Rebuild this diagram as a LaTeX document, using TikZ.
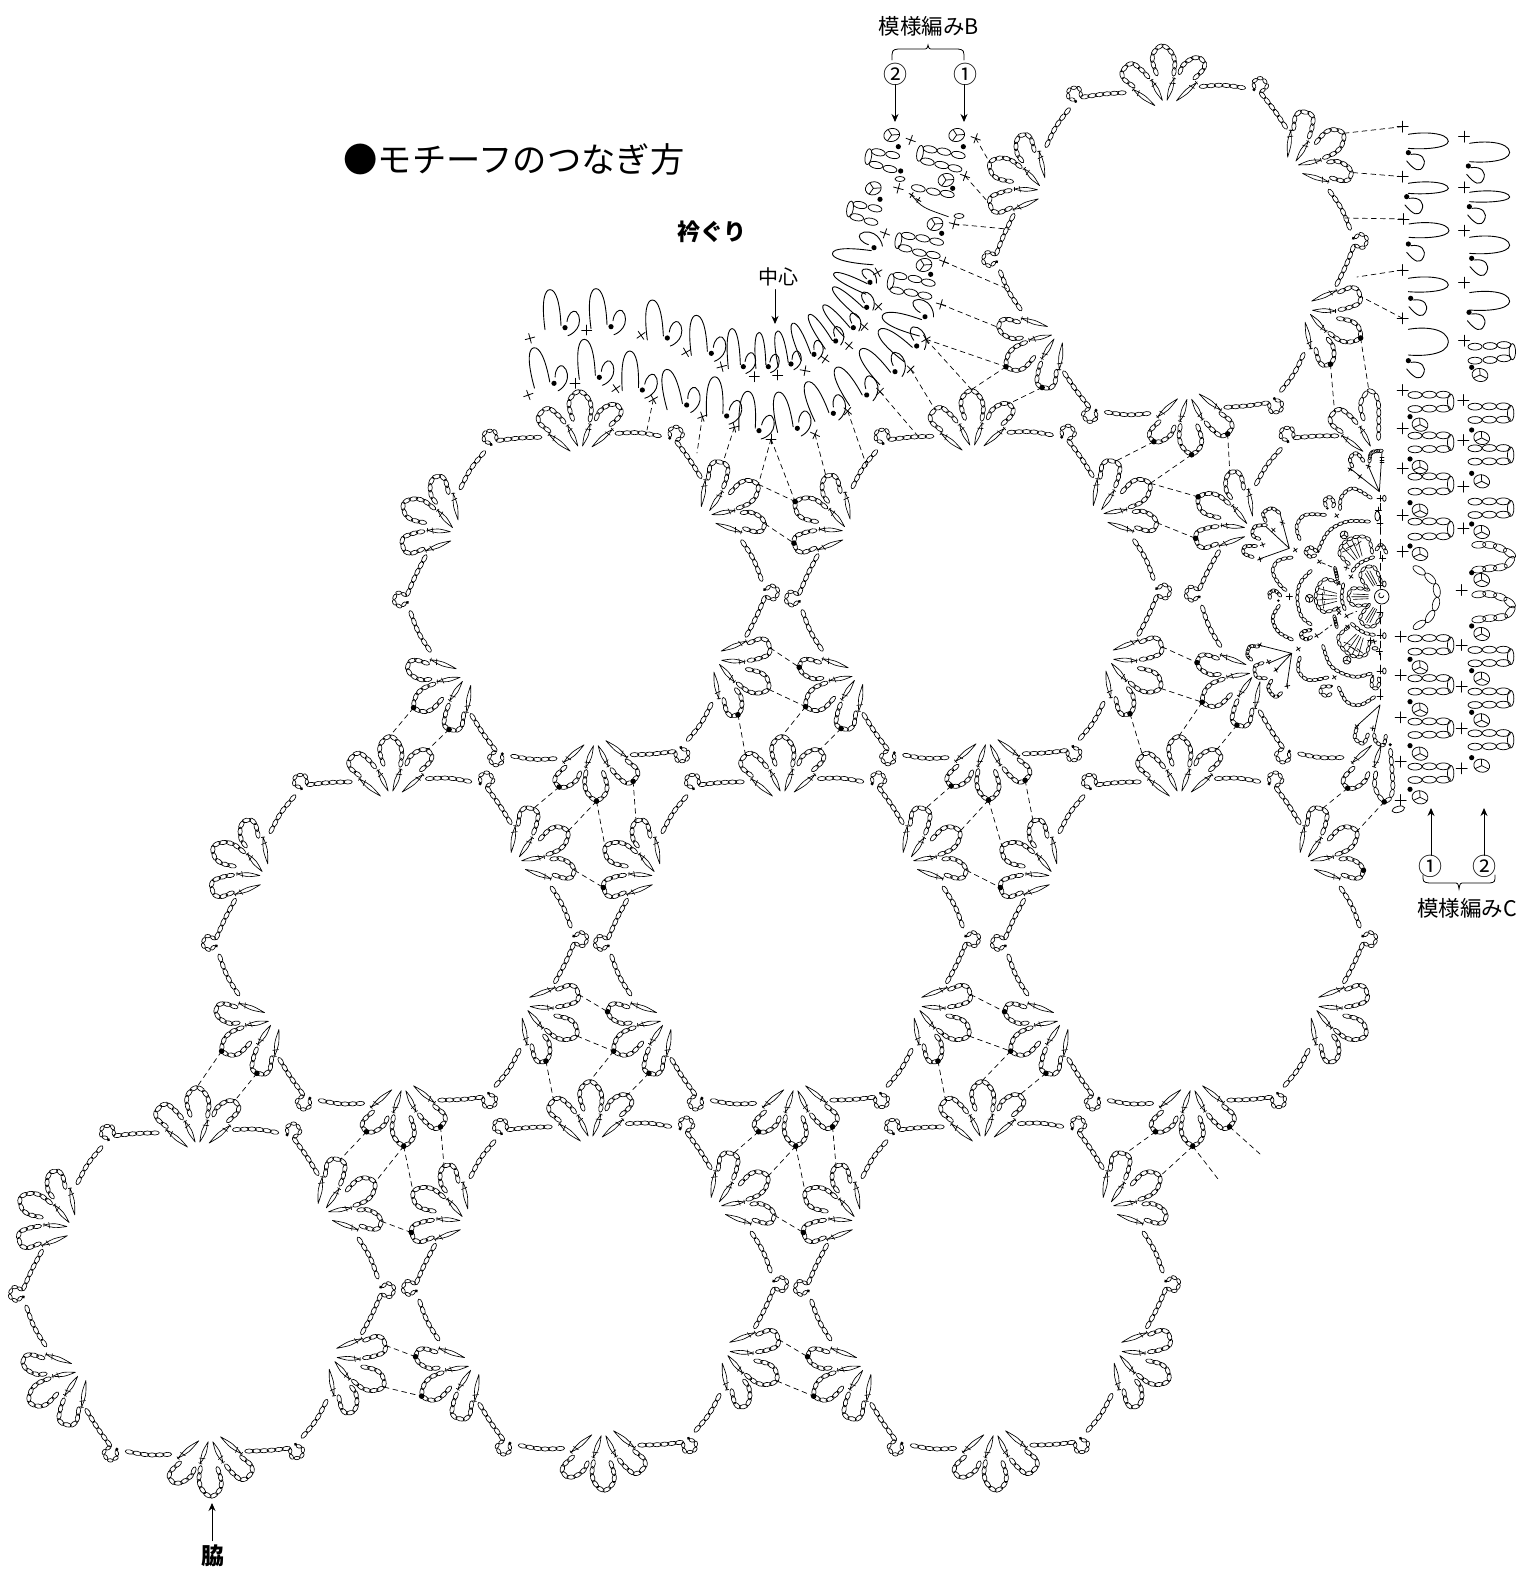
\documentclass[tikz,border=0pt]{standalone}
\usepackage{fontspec}
\newfontfamily\jp{Noto Sans CJK JP}
\usetikzlibrary{arrows.meta}
\tikzset{
 cdash/.style={dashed,dash pattern=on 5pt off 4pt,line width=.7pt,black},
 zoomat/.style 2 args={shift={(#1,-#2)},x=0.33333pt,y=-0.33333pt,/utils/exec={\def\zf{-1}}},
 lab/.style={font=\jp,inner sep=0pt,black},
 arr/.style={-{Stealth[length=8pt,width=7pt]},line width=.9pt},
}
\def\zf{1}
\makeatletter
\newcount\cpK\newcount\cpM\newcount\cpQ\newcount\cpI\newcount\cpIm\newcount\cpIp\newcount\cpIq\newcount\cpN\newcount\cpca\newcount\cpcb
\newdimen\cpLen\newdimen\cpT\newdimen\cpXo\newdimen\cpYo\newdimen\cpXn\newdimen\cpYn
\newdimen\cpbx\newdimen\cpcx\newdimen\cpdx\newdimen\cpex\newdimen\cpby\newdimen\cpcy\newdimen\cpdy\newdimen\cpey
\newdimen\cpda\newdimen\cpdb\newdimen\cpdc\newdimen\cpdd
\def\cpval#1#2{\csname cp#1\number#2\endcsname}
\def\cpz(#1,#2) {\ifx\relax#1\else\advance\cpK 1 \expandafter\def\csname cpx\number\cpK\endcsname{#1}\expandafter\def\csname cpy\number\cpK\endcsname{#2}\expandafter\cpz\fi}
\def\cpcoef#1#2#3#4#5{%
 \cpda=\cpval{#1}\cpIm pt\relax
 \cpdb=\cpval{#1}\cpI pt\relax
 \cpdc=\cpval{#1}\cpIp pt\relax
 \cpdd=\cpval{#1}\cpIq pt\relax
 #2=\cpdb
 #3=\dimexpr(\cpdc-\cpda)/2\relax
 #4=\dimexpr\cpda-2\cpdb-\cpdb/2+2\cpdc-\cpdd/2\relax
 #5=\dimexpr-\cpda/2+\cpdb+\cpdb/2-\cpdc-\cpdc/2+\cpdd/2\relax}
\def\cpstep#1#2#3{%
 \cpXn=\dimexpr\cpbx+#1\cpcx+#2\cpdx+#3\cpex\relax
 \cpYn=\dimexpr\cpby+#1\cpcy+#2\cpdy+#3\cpey\relax
 \cpda=\dimexpr\cpXn-\cpXo\relax \cpdb=\dimexpr\cpYn-\cpYo\relax
 \pgfmathparse{veclen(\strip@pt\cpda,\strip@pt\cpdb)}%
 \advance\cpLen \pgfmathresult pt\relax
 \advance\cpM 1
 \expandafter\edef\csname cps\number\cpM\endcsname{\the\cpLen}%
 \expandafter\edef\csname cpX\number\cpM\endcsname{\the\cpXn}%
 \expandafter\edef\csname cpY\number\cpM\endcsname{\the\cpYn}%
 \cpXo=\cpXn \cpYo=\cpYn}
\def\cpseg{%
 \cpIm=\cpI \ifnum\cpI>1 \advance\cpIm -1 \fi
 \cpIp=\cpI \advance\cpIp 1
 \cpIq=\cpIp \ifnum\cpIp<\cpK \advance\cpIq 1 \fi
 \cpcoef{x}\cpbx\cpcx\cpdx\cpex
 \cpcoef{y}\cpby\cpcy\cpdy\cpey
 \cpstep{.2}{.04}{.008}\cpstep{.4}{.16}{.064}\cpstep{.6}{.36}{.216}\cpstep{.8}{.64}{.512}\cpstep{1}{1}{1}%
 \advance\cpI 1
 \ifnum\cpI<\cpK \expandafter\cpseg\fi}
\def\cpadvance{\cpIp=\cpI \advance\cpIp 1
 \ifdim\cpT>\cpval{s}\cpIp\relax \advance\cpI 1 \expandafter\cpadvance\fi}
\def\cpmark{%
 \advance\cpQ 1
 \cpT=\dimexpr\cpLen*\numexpr2*\cpQ-1\relax/\numexpr2*\cpN\relax\relax
 \cpadvance
 \cpda=\cpval{s}\cpI\relax \cpdb=\cpval{s}\cpIp\relax
 \cpca=\number\dimexpr\cpT-\cpda\relax\relax
 \cpcb=\number\dimexpr\cpdb-\cpda\relax\relax
 \cpda=\cpval{X}\cpI\relax \cpdb=\cpval{X}\cpIp\relax
 \cpXn=\dimexpr\cpda+(\cpdb-\cpda)*\cpca/\cpcb\relax
 \cpdc=\dimexpr\cpdb-\cpda\relax
 \cpda=\cpval{Y}\cpI\relax \cpdb=\cpval{Y}\cpIp\relax
 \cpYn=\dimexpr\cpda+(\cpdb-\cpda)*\cpca/\cpcb\relax
 \cpdd=\dimexpr\cpdb-\cpda\relax
 \pgfmathparse{atan2(\zf*\strip@pt\cpdd,\strip@pt\cpdc)}\let\cpAng\pgfmathresult
 \edef\cpPX{\strip@pt\cpXn}\edef\cpPY{\strip@pt\cpYn}%
 \draw[shift={(\cpPX,\cpPY)},rotate=\cpAng,line width=.65pt] (0,0) ellipse [x radius=\cprx,y radius=\cpry];
 \ifnum\cpQ<\cpN \expandafter\cpmark\fi}
\newcommand\ovchain[4]{\begingroup
 \cpK=0 \cpN=#1 \def\cprx{#2}\def\cpry{#3}%
 \cpz #4 (\relax,0) %
 \cpM=0 \cpLen=0pt \cpI=1
 \cpXo=\csname cpx1\endcsname pt\relax \cpYo=\csname cpy1\endcsname pt\relax
 \expandafter\def\csname cps0\endcsname{0pt}%
 \expandafter\edef\csname cpX0\endcsname{\the\cpXo}%
 \expandafter\edef\csname cpY0\endcsname{\the\cpYo}%
 \cpseg
 \cpI=0 \cpQ=0
 \cpmark
 \endgroup}
\makeatother
% chain of ovals: count, points
\newcommand\chn[2]{\ovchain{#1}{4.4pt}{2.1pt}{#2}}
\newcommand\chs[2]{\ovchain{#1}{2.9pt}{1.7pt}{#2}}
\newcommand\cht[2]{\ovchain{#1}{3.2pt}{1.6pt}{#2}}
\newcommand\chb[2]{\ovchain{#1}{7pt}{3.4pt}{#2}}
\newcommand\stalk[4]{\begin{scope}[shift={(#1,#2)},rotate=#3]
 \draw[line width=.65pt] (0,0) .. controls (-2.6,#4*.55) .. (0,#4) .. controls (2.6,#4*.55) .. (0,0);
 \draw[line width=.65pt] (-1.8,#4)--(1.8,#4) (-2.8,#4*.74)--(2.8,#4*.8);
\end{scope}}
\newcommand\petL{\chn{8}{(-15,25) (-21.7,33) (-31.7,40) (-41,33) (-40,25) (-30,16.7)}}
\newcommand\petC{\chn{10}{(9.8,26.7) (11.5,40) (8.2,50) (-.2,56.7) (-8.5,51) (-10.8,41.7) (-6.8,27.7)}}
\newcommand\petR{\chn{8}{(15.7,28) (20,36.7) (30,43) (38.3,41.7) (40.7,33) (30,22.3)}}
\newcommand\cluster[2]{\begin{scope}[rotate=-60*#2,shift={({4*(#2==0)},148)},rotate=-3.3]
 \stalk{11.7}{1}{-50}{27}\stalk{2.3}{2}{-20}{23}\stalk{-2.3}{2}{26}{23}\stalk{-10}{-3}{51}{27}
 \petL\petC\petR
 \coordinate (#1-#2-l) at (-37,38);\coordinate (#1-#2-c) at (-.2,57.5);\coordinate (#1-#2-r) at (37,43);
\end{scope}}
\newcommand\sector[1]{\begin{scope}[rotate=-60*#1]
 \chn{6}{(40.3,160.2) (63,159.5) (85.2,154.6)}
 \fill (94,152) circle (1.7);
 \chs{6}{(95,153) (94.5,160) (102.7,162.6) (107.2,154.4) (99.9,148.8)}
 \chn{6}{(99.9,148.8) (112,130) (122.7,110.3)}
\end{scope}}
\newcommand\motif[4]{\begin{scope}[shift={(#2,-#3)},rotate=#4]
 \foreach \k in {0,...,5}{\cluster{#1}{\k}\sector{\k}}
 \end{scope}}
\newcommand\blob[1]{\fill (#1) circle (2.8);}
\newcommand\dl[2]{\draw[cdash] (#1)--(#2);}
\newcommand\tj[3]{\dl{#1-3-r}{#2-1-l}\dl{#1-3-c}{#2-1-c}\dl{#1-3-c}{#3-5-c}\dl{#1-3-l}{#3-5-r}\dl{#2-1-r}{#3-5-l}
 \blob{#1-3-r}\blob{#1-3-c}\blob{#1-3-l}\blob{#3-5-l}}
\newcommand\vj[3]{\dl{#1-2-l}{#2-4-r}\dl{#1-2-c}{#2-4-c}\dl{#1-2-r}{#3-0-l}\dl{#2-4-c}{#3-0-c}\dl{#2-4-l}{#3-0-r}
 \blob{#2-4-r}\blob{#2-4-c}\blob{#2-4-l}\blob{#1-2-r}}
\newcommand\hv[2]{\dl{#1-4-c}{#2-0-c}\dl{#1-4-l}{#2-0-r}\blob{#1-4-c}\blob{#1-4-l}}
\newcommand\hj[2]{\dl{#1-2-l}{#2-4-r}\dl{#1-2-c}{#2-4-c}\blob{#2-4-r}\blob{#2-4-c}}
\newcommand\hjt[2]{\dl{#1-1-c}{#2-5-c}\dl{#1-1-r}{#2-5-l}\blob{#2-5-c}\blob{#2-5-l}}
% small marks
\newcommand\crs[4]{\draw[line width=.8pt,shift={(#1,#2)},rotate=#3] (-#4pt,0)--(#4pt,0) (0,-#4pt)--(0,#4pt);}
\newcommand\dotb[3]{\fill (#1,#2) circle (#3pt);}
\newcommand\ov[3]{\draw[shift={(#1,#2)},rotate=#3] (0,0) ellipse (7pt and 3.4pt);}
\newcommand\tref[3]{\begin{scope}[shift={(#1,#2)},rotate=#3]
 \draw (0,0) ellipse (8pt and 6.5pt);
 \draw (0pt,0pt)--(-2pt,6.3pt) (0pt,0pt)--(7.5pt,-1.5pt) (0pt,0pt)--(-5.5pt,-4.5pt);\end{scope}}
% right column unit (zoom coordinates)
\newcommand\cunit[7]{\crs{#1}{#2}{0}{5.5}
 \ov{#5}{#3}{0}\ov{#5+43}{#3-1}{0}\ov{#5+85}{#3-1}{0}
 \ov{#5}{#4}{0}\ov{#5+43}{#4-1}{0}\ov{#5+85}{#4-1}{0}
 \draw[shift={(#5+107,#3*.5+#4*.5)}] (0,0) ellipse (3.2pt and 8pt);
 \dotb{#6}{#7}{2.6}\tref{#6+30}{#7+24}{-15}}
% U-shaped loop of the upper part of the right columns
\newcommand\uunit[6]{\crs{#1}{#2}{0}{5.5}
 \draw[line width=.9pt] (#1+17,#3) .. controls (#1+60,#3-8) and (#1+135,#3-6) .. (#1+137,#4*.5+#3*.5) .. controls (#1+135,#4) and (#1+60,#4+4) .. (#1+17,#4);
 \dotb{#5}{#6}{2.6}
 \draw[line width=.9pt] (#5+8,#6+5) .. controls (#5+40,#6) and (#5+55,#6+20) .. (#5+45,#6+40) .. controls (#5+35,#6+60) and (#5+20,#6+55) .. (#5-5,#6+25);}
% neckline unit
\newcommand\nunit[6]{\begin{scope}[shift={(#1,#2)},x=1pt,y=1pt,rotate=#3]
 \fill (0,0) circle (2.6pt);
 \begin{scope}[xscale=#4,yscale=#5]
 \draw[line width=.9pt] (-20,-2) .. controls (-24,28) and (-20,38) .. (-15,38) .. controls (-9,38) and (-5,25) .. (-4,2);
 \end{scope}
 \begin{scope}[scale=#6]
 \draw[line width=.9pt] (2,6) .. controls (3,14) and (8,18) .. (11,16) .. controls (16,12) and (15,3) .. (12,-1) .. controls (9,-5) and (6,-7) .. (3,-8);
 \end{scope}\end{scope}}
\newcommand\innerparts[1]{\begin{scope}[shift={(1381.7,-596.7)},rotate=#1,x=.33333pt,y=-.33333pt,/utils/exec={\def\zf{-1}}]
 \cht{11}{(-125,-40) (-170,-52) (-193,-25) (-197,15) (-175,45) (-130,35)}
 \draw (-217,5) circle (4pt) (-217,5)--(-225,-3) (-217,5)--(-207,0) (-217,5)--(-217,16);
 \draw[line width=.6pt] (-135,-10)--(-190,-25) (-135,-2)--(-195,-8) (-135,6)--(-195,10) (-135,14)--(-190,28);
 \draw[line width=.6pt] (-175,-30)--(-172,-10) (-178,-12)--(-176,6) (-178,2)--(-178,20) (-172,14)--(-175,35);
 \cht{5}{(-115,-40) (-120,5) (-110,40)}
 \cht{8}{(-35,-20) (-85,-25) (-100,0) (-85,25) (-40,25)}
 \draw[line width=.6pt] (-40,-6)--(-85,-8) (-40,0)--(-90,0) (-40,6)--(-85,8);
 \crs{-128}{48}{45}{2.5}
\end{scope}}
\begin{document}
\begin{tikzpicture}[x=1pt,y=1pt,line width=.75pt,line cap=round]
\path[use as bounding box,fill=white] (0,0) rectangle (1519,-1573);
% ---- full motifs
\motif{A1}{202}{1292}{3.3}
\motif{A2}{595}{1286}{3.3}
\motif{A3}{987}{1286}{3.3}
\motif{B1}{395}{941}{3.3}
\motif{B2}{787}{941}{3.3}
\motif{B3}{1184}{941}{3.3}
\motif{C1}{586}{596}{3.8}
\motif{C2}{978}{595}{3.8}
\motif{D}{1175}{250}{5.5}
% ---- half motif
\begin{scope}[shift={(1378,-596)},rotate=2]
 \cluster{C3}{4}\cluster{C3}{5}\sector{3}\sector{4}\sector{5}
 \begin{scope}[shift={(0,148)}]
  \stalk{-2.3}{2}{26}{22}\stalk{-10}{-3}{51}{26}\petL
  \chn{11}{(-8,28) (-11,42) (-8,51) (-2,57) (4,54) (7,45) (7,30) (6,8)}
  \coordinate (C3-0-l) at (-37,38);\coordinate (C3-0-c) at (-2,58);
 \end{scope}
 \begin{scope}[rotate=180,shift={(0,148)}]
  \stalk{11.7}{1}{-50}{26}\stalk{2.3}{2}{-20}{22}\petR
  \chn{11}{(8,27) (10,40) (7,50) (1,57) (-5,54) (-8,45) (-8,30) (-7,5)}
  \fill (-7,1) circle (1.7);
  \coordinate (C3-3-r) at (37,43);\coordinate (C3-3-c) at (1,58);
 \end{scope}
\end{scope}
% ---- half-motif inner rounds
\innerparts{0}\innerparts{-60}\innerparts{60}
\draw (1381.7,-596.7) circle (7.3);
\draw (1380,-593) arc (120:350:2.6);
\begin{scope}[zoomat={1180}{380}]
 \draw (598,335)--(510,265) (598,335)--(565,258) (598,335)--(606,215);
 \draw (600,240)--(612,240) (600,232)--(612,232) (600,248)--(612,248);
 \crs{565}{258}{-20}{2.5}\crs{540}{290}{-35}{2.5}\crs{510}{268}{-35}{2.5}
 \chs{6}{(518,262) (510,235) (530,220) (552,245)}
 \chs{6}{(568,245) (575,218) (606,212)}
 \draw (600,975)--(528,1040) (600,975)--(582,1058);
 \crs{578}{1045}{-10}{2.5}\crs{530}{1040}{35}{2.5}
 \chs{6}{(530,1045) (525,1075) (550,1090) (565,1060)}
 \chs{6}{(582,1062) (588,1085) (610,1095) (618,1065)}
\end{scope}
\begin{scope}[zoomat={1240}{470}]
 % upper heart
 \coordinate (h1) at (148,235);
 \draw (h1)--(120,130) (h1)--(78,170) (h1)--(55,268);
 \crs{127}{158}{-15}{2.5}\crs{100}{180}{-45}{2.5}\crs{68}{224}{-70}{2.5}\crs{60}{268}{-75}{2.5}
 \cht{6}{(78,155) (70,130) (95,115) (120,130)}
 \cht{6}{(80,165) (45,170) (38,195) (60,208)}
 \cht{6}{(50,228) (15,230) (12,250) (40,262)}
 \crs{166}{240}{35}{2.5}
 % lower heart
 \coordinate (h2) at (155,550);
 \draw (h2)--(55,525) (h2)--(85,580) (h2)--(108,600) (h2)--(140,650);
 \crs{60}{525}{60}{2.5}\crs{85}{575}{30}{2.5}\crs{108}{600}{30}{2.5}\crs{142}{648}{10}{2.5}
 \cht{6}{(55,530) (30,530) (22,555) (35,570)}
 \cht{6}{(70,578) (45,590) (50,620) (80,625)}
 \cht{6}{(95,630) (85,655) (105,680) (125,668)}
 \crs{175}{537}{35}{2.5}
 % arcs
 \cht{9}{(158,262) (115,272) (98,305) (120,345) (140,362)}
 \cht{9}{(118,405) (98,445) (115,485) (158,510)}
 \chs{5}{(90,385) (90,368) (105,362) (122,378)}
 \fill (115,392) circle (1.4pt);
 \crs{148}{380}{0}{3}
 \cht{11}{(215,300) (180,340) (172,390) (185,440) (215,465)}
 \chs{6}{(232,245) (210,232) (197,245) (210,260) (228,255)}
 \chs{6}{(213,480) (190,485) (183,498) (200,508) (215,500)}
 \fill (235,245) circle (1.4pt);\fill (213,478) circle (1.4pt);
 \cht{9}{(180,210) (170,170) (195,135) (258,135)}
 \cht{9}{(180,560) (175,600) (205,630) (265,622)}
 \cht{9}{(300,120) (305,80) (340,55) (395,85)}
 \cht{9}{(295,650) (320,695) (360,705) (405,680)}
 \chs{5}{(258,110) (255,90) (270,82) (282,98) (278,112)}
 \chs{5}{(275,650) (250,650) (242,665) (258,678) (275,670)}
 \fill (262,115) circle (1.4pt);\fill (275,648) circle (1.4pt);
 \crs{290}{137}{35}{2.5}\crs{283}{622}{35}{2.5}
 \cht{12}{(235,240) (265,185) (320,155) (390,155)}
 \cht{12}{(248,525) (275,590) (340,620) (395,610)}
 \chs{5}{(398,622) (395,645) (408,655) (418,640) (415,622)}
 \fill (398,618) circle (1.4pt);
 \crs{238}{275}{35}{2.5}\crs{230}{497}{35}{2.5}\crs{320}{438}{35}{2.5}\crs{333}{320}{-35}{2.5}\crs{323}{470}{-35}{2.5}\crs{295}{415}{35}{2.5}\crs{295}{340}{-35}{2.5}
 \draw[dashed,dash pattern=on 4pt off 3pt] (245,278)--(285,295) (238,493)--(275,465) (328,433)--(350,424);
 \cht{4}{(285,295) (292,325)}\cht{4}{(283,440) (290,470)}
 % centre line
 \draw[dashed,dash pattern=on 7pt off 5pt] (421,100)--(421,355) (421,405)--(421,672);
 \crs{420}{85}{0}{3}\draw (433,85) ellipse (1.8pt and 3pt);
 \crs{420}{160}{0}{3}\crs{428}{265}{0}{3}
 \crs{420}{345}{0}{3}\draw (433,342) ellipse (1.8pt and 3pt);
 \crs{420}{427}{0}{3}\crs{420}{497}{0}{3}\draw (433,497) ellipse (1.8pt and 3pt);
 \crs{420}{603}{0}{3}\draw (433,603) ellipse (1.8pt and 3pt);\crs{420}{680}{0}{3}
 \crs{392}{512}{0}{3}\draw (405,535) ellipse (3pt and 1.8pt);\crs{418}{545}{0}{3}
 \draw (412,138) ellipse (2.5pt and 5pt);\crs{415}{120}{0}{3}
 \chs{4}{(408,240) (425,225) (440,250)}
\end{scope}
% ---- right-hand columns
\begin{scope}[zoomat={1180}{380}]
 \cunit{668}{30}{45}{87}{705}{690}{110}
 \cunit{668}{145}{167}{208}{705}{690}{237}
 \cunit{668}{265}{290}{335}{705}{690}{368}
 \cunit{668}{405}{425}{470}{705}{690}{498}
 \crs{668}{515}{0}{5.5}
 \chb{6}{(700,560) (755,600) (772,650) (750,710) (700,745)}
 \cunit{662}{770}{775}{815}{705}{690}{838}
 \cunit{662}{885}{895}{935}{705}{690}{965}
 \cunit{662}{1012}{1025}{1065}{705}{690}{1097}
 \cunit{662}{1145}{1160}{1200}{705}{690}{1228}
 \crs{662}{1260}{0}{5.5}
 \draw[shift={(655,1288)},rotate=15] (0,0) ellipse (6.5pt and 3pt);
 % column 2
 \cunit{850}{60}{80}{120}{885}{875}{150}
 \cunit{850}{180}{205}{245}{885}{875}{280}
 \cunit{850}{320}{365}{405}{885}{875}{432}
 \crs{850}{445}{0}{5.5}
 \dotb{875}{578}{2.6}\tref{905}{600}{-15}
 \chb{8}{(880,495) (930,495) (972,510) (997,530) (975,558) (930,565) (880,570)}
 \crs{845}{630}{0}{5.5}
 \dotb{875}{738}{2.6}\tref{905}{762}{-15}
 \chb{8}{(880,645) (925,642) (970,655) (997,680) (975,708) (925,715) (880,720)}
 \cunit{845}{795}{810}{850}{885}{875}{872}
 \cunit{845}{920}{935}{975}{885}{875}{997}
 \cunit{845}{1045}{1060}{1100}{885}{875}{1133}
 \crs{845}{1165}{0}{5.5}
\end{scope}
\begin{scope}[zoomat={1380}{100}]
 \coordinate (u1) at (68,80);\coordinate (u2) at (68,230);\coordinate (u3) at (70,357);\coordinate (u4) at (68,510);\coordinate (u5) at (68,655);
 \uunit{68}{80}{103}{145}{85}{158}
 \uunit{68}{230}{250}{280}{80}{290}
 \uunit{70}{357}{372}{412}{85}{432}
 \uunit{68}{510}{535}{575}{92}{595}
 \uunit{68}{655}{688}{765}{85}{782}
 \uunit{252}{110}{130}{185}{265}{198}
 \uunit{252}{262}{277}{305}{268}{320}
 \uunit{252}{392}{412}{460}{275}{475}
 \uunit{252}{548}{578}{630}{267}{637}
 \crs{252}{722}{0}{5.5}
 \ov{285}{740}{0}\ov{330}{738}{0}\ov{372}{735}{0}
 \ov{285}{782}{0}\ov{330}{780}{0}\ov{372}{775}{0}
 \draw[shift={(397,755)}] (0,0) ellipse (3.2pt and 8pt);
 \dotb{275}{802}{2.6}\tref{300}{825}{-15}
\end{scope}
% ---- neckline
\begin{scope}[zoomat={500}{100}]
 \foreach \a/\b/\r in {90/715/15,260/690/0,423/706/35,558/757/30,665/800/15,763/830/0,833/825/0,915/812/-10,975/777/-35,1047/737/-40,1093/680/-40,1135/620/-45,1133/517/-60}{\crs{\a}{\b}{\r}{5}}
 \foreach \a/\b/\r in {85/885/20,225/850/0,348/866/35,460/898/30,607/950/20,703/982/15,813/1017/0,945/1003/-25,1043/933/-40,1140/875/-45,1232/808/-45,1278/718/-60}{\crs{\a}{\b}{\r}{5}}
 \coordinate (n12) at (1278,718);\coordinate (n11) at (1232,808);\coordinate (n10) at (1140,875);\coordinate (n9) at (1043,933);\coordinate (n8) at (945,1003);\coordinate (n7) at (813,1017);\coordinate (n6) at (703,982);\coordinate (n5) at (607,950);\coordinate (n3) at (460,898);
 \nunit{195}{683}{0}{1}{1}{1}
 \nunit{333}{680}{0}{1}{1}{1}
 \nunit{502}{714}{0}{1}{1}{1}
 \nunit{634}{760}{0}{1}{1}{1}
 \nunit{730}{800}{0}{.75}{1}{.85}
 \nunit{805}{800}{0}{.62}{.9}{.75}
 \nunit{873}{792}{6}{.65}{.9}{.75}
 \nunit{942}{763}{18}{.7}{.95}{.75}
 \nunit{1007}{723}{30}{.65}{.95}{.75}
 \nunit{1060}{683}{38}{.65}{.95}{.75}
 \nunit{1100}{622}{45}{.65}{1}{.8}
 \nunit{1110}{547}{62}{.62}{.95}{.75}
 \nunit{1122}{443}{80}{.85}{1.05}{1}
 \nunit{162}{850}{8}{1}{1}{1}
 \nunit{298}{832}{0}{1}{1}{1}
 \nunit{427}{870}{-4}{1}{1}{1}
 \nunit{560}{915}{8}{1}{1}{1}
 \nunit{680}{948}{-5}{1}{1}{1}
 \nunit{777}{992}{-6}{1}{1}{1}
 \nunit{892}{985}{6}{1}{1}{1}
 \nunit{1000}{940}{18}{1}{1}{1}
 \nunit{1100}{885}{26}{1}{1}{1}
 \nunit{1185}{815}{35}{1}{1}{1}
 \nunit{1250}{738}{45}{1}{1}{1}
 \nunit{1275}{650}{68}{1}{1.05}{1}
\end{scope}
% ---- upper-right stitches
\begin{scope}[zoomat={840}{100}]
 % column 1
 \tref{350}{105}{15}\dotb{370}{140}{2.6}\crs{407}{115}{-20}{5}
 \coordinate (r1) at (407,115);\coordinate (r2) at (375,228);\coordinate (r3) at (342,372);\coordinate (r4) at (312,485);\coordinate (r5) at (303,613);
 \ov{270}{148}{-12}\ov{312}{155}{-12}\ov{355}{165}{-12}\ov{262}{185}{-12}\ov{305}{195}{-12}\ov{345}{205}{-12}
 \draw[shift={(240,160)},rotate=-10] (0,0) ellipse (3.2pt and 8pt);
 \crs{375}{228}{-20}{5}
 \tref{318}{240}{15}\dotb{338}{265}{2.6}
 \ov{235}{265}{-12}\ov{280}{275}{-12}\ov{322}{282}{-12}
 \draw (212,282) .. controls (245,322) .. (325,350);
 \crs{215}{285}{-30}{3}\crs{235}{300}{-30}{3}
 \draw (357,348) ellipse (5pt and 2.5pt);\crs{342}{372}{-15}{5}
 \tref{285}{372}{15}\dotb{305}{400}{2.6}
 \ov{205}{408}{-12}\ov{248}{415}{-12}\ov{290}{425}{-12}\ov{195}{445}{-12}\ov{238}{458}{-12}\ov{280}{465}{-12}
 \draw[shift={(175,422)},rotate=-10] (0,0) ellipse (3.2pt and 8pt);
 \crs{312}{485}{-20}{5}
 \tref{252}{495}{15}\dotb{272}{523}{2.6}
 \ov{180}{528}{-12}\ov{225}{537}{-12}\ov{265}{548}{-12}\ov{170}{572}{-12}\ov{213}{578}{-12}\ov{255}{587}{-12}
 \draw[shift={(152,545)},rotate=-10] (0,0) ellipse (3.2pt and 8pt);
 \crs{303}{613}{-15}{5}
 % column 2
 \tref{155}{105}{15}\dotb{175}{140}{2.6}\crs{212}{120}{-20}{5}
 \ov{115}{157}{-12}\ov{158}{165}{-12}\ov{108}{195}{-12}\ov{150}{207}{-12}
 \draw[shift={(85,170)},rotate=-10] (0,0) ellipse (3.2pt and 8pt);
 \dotb{182}{213}{2.6}\draw (180,237) ellipse (5pt and 2.5pt);\crs{175}{265}{-15}{5}
 \tref{100}{265}{15}\dotb{120}{298}{2.6}
 \ov{60}{315}{-12}\ov{105}{325}{-12}\ov{50}{352}{-12}\ov{93}{365}{-12}
 \draw[shift={(30,327)},rotate=-10] (0,0) ellipse (3.2pt and 8pt);
 \crs{135}{400}{-20}{5}
 \coordinate (d1) at (510,388);\coordinate (d2) at (505,568);
\end{scope}
% ---- connectors
\tj{B1}{A1}{A2}\tj{B2}{A2}{A3}\tj{C1}{B1}{B2}\tj{C2}{B2}{B3}
\vj{B1}{B2}{A2}\vj{B2}{B3}{A3}\vj{C1}{C2}{B2}\vj{C2}{C3}{B3}
\hv{B1}{A1}\hv{C1}{B1}\hv{D}{C2}
\hj{A1}{A2}\hj{A2}{A3}
\hjt{C1}{C2}\hjt{C2}{C3}
% B3 bottom
\dl{B3-3-r}{A3-1-l}\dl{B3-3-c}{A3-1-c}\blob{B3-3-r}\blob{B3-3-c}\blob{B3-3-l}
\coordinate (f1) at (1218,-1179);\coordinate (f2) at (1260,-1154);
\dl{B3-3-c}{f1}\dl{B3-3-l}{f2}
% half motif bottom
\dl{C3-3-r}{B3-1-l}\dl{C3-3-c}{B3-1-c}\blob{C3-3-r}\blob{C3-3-c}\blob{B3-1-r}
% top-right motif
\dl{D-3-r}{C2-1-l}\dl{D-3-c}{C2-1-c}\dl{D-3-l}{C3-5-r}\blob{D-3-r}\blob{D-3-c}\blob{D-3-l}
\dl{D-2-c}{C3-0-c}\dl{D-2-r}{C3-0-l}\blob{D-2-c}\blob{D-2-r}
\dl{r1}{D-5-c}\dl{r2}{D-5-l}\dl{r3}{d1}\dl{r4}{d2}\dl{r5}{D-4-r}\dl{n12}{D-4-c}
\dl{n12}{C2-0-c}\dl{n11}{C2-0-l}
\coordinate (e3) at (1345,-218);\coordinate (e4) at (1357,-277);
\dl{u1}{D-1-c}\dl{u2}{D-1-r}\dl{u3}{e3}\dl{u4}{e4}\dl{u5}{D-2-l}
% neck dashes
\coordinate (m1) at (697,-453);\coordinate (m2) at (867,-467);\coordinate (m3) at (647,-430);\coordinate (m4) at (917,-435);
\dl{n3}{m3}\dl{n5}{m1}\dl{n6}{C1-1-l}\dl{n7}{C1-1-c}\dl{n7}{C2-5-c}\dl{n8}{C2-5-r}\dl{n9}{m2}\dl{n10}{m4}
% ---- labels
\node[lab,font=\jp\fontsize{34.3}{36}\selectfont] (title) at (514,-159) {●モチーフのつなぎ方};
\node[lab,font=\jp\fontsize{21.5}{24}\selectfont] (lb) at (929,-26) {模様編みB};
\node[lab,font=\jp\bfseries\fontsize{23}{24}\selectfont] (neck) at (712,-232) {衿ぐり};
\node[lab,font=\jp\fontsize{20}{22}\selectfont] (cen) at (778,-277) {中心};
\node[lab,font=\jp\bfseries\fontsize{23}{24}\selectfont] (side) at (213,-1556) {脇};
\node[lab,font=\jp\fontsize{21.5}{24}\selectfont] (lc) at (1467,-908) {模様編みC};
\node[lab,font=\jp\fontsize{24}{26}\selectfont] (b2) at (895,-74) {②};
\node[lab,font=\jp\fontsize{24}{26}\selectfont] (b1) at (965,-74) {①};
\node[lab,font=\jp\fontsize{24}{26}\selectfont] (c1) at (1430,-866) {①};
\node[lab,font=\jp\fontsize{24}{26}\selectfont] (c2) at (1484,-866) {②};
\coordinate (ba2) at (895,-122);\coordinate (ba1) at (964,-122);
\draw[arr] (b2.south) ++(0,1) -- (ba2);
\draw[arr] (b1.south) ++(-1,1) -- (ba1);
\coordinate (cena) at (775,-324);\draw[arr] (cen.south) ++(-3,-3) -- (cena);
\coordinate (sidea) at (212,-1503);\draw[arr] (side.north) ++(-1,4) -- (sidea);
\coordinate (ca1) at (1431,-808);\coordinate (ca2) at (1484,-808);
\draw[arr] (c1.north) ++(1,-1) -- (ca1);\draw[arr] (c2.north) ++(0,-1) -- (ca2);
\draw[line width=.8pt] (892,-60) .. controls (892,-50) .. (898,-49) -- (923,-49) .. controls (927,-49) .. (928,-45) .. controls (929,-49) .. (933,-49) -- (958,-49) .. controls (964,-50) .. (964,-60);
\draw[line width=.8pt] (1423,-875) .. controls (1423,-882) .. (1429,-883) -- (1454,-883) .. controls (1458,-883) .. (1459,-889) .. controls (1460,-883) .. (1464,-883) -- (1490,-883) .. controls (1495,-882) .. (1495,-875);
\end{tikzpicture}
\end{document}
